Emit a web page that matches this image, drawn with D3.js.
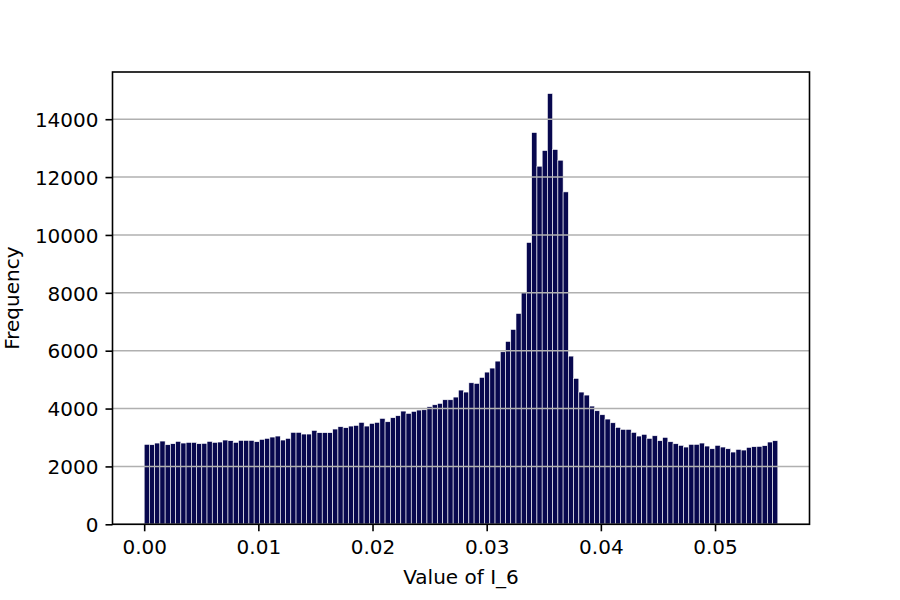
<!DOCTYPE html>
<html>
<head>
<meta charset="utf-8">
<script src="https://cdn.jsdelivr.net/npm/d3@7"></script>
<style>
    body { margin: 0; background: #fff; }
    svg text { font-family: "DejaVu Sans", sans-serif; fill: #000; }
</style>
</head>
<body>
<svg id="chart" width="900" height="600"></svg>
<script>
// histogram of I_6, counts per bin
var binStart = 0.0;
var binEnd = 0.0555;
var counts = [
    2763, 2750, 2808, 2877, 2750, 2785, 2866, 2808, 2831, 2831,
    2785, 2797, 2866, 2831, 2843, 2912, 2889, 2831, 2900, 2900,
    2900, 2854, 2935, 2970, 3015, 3050, 2912, 2970, 3178, 3178,
    3119, 3119, 3247, 3166, 3166, 3166, 3292, 3372, 3338, 3395,
    3418, 3523, 3395, 3488, 3523, 3661, 3544, 3683, 3752, 3913,
    3834, 3903, 3948, 3958, 4062, 4131, 4179, 4304, 4304, 4397,
    4639, 4570, 4891, 4870, 5077, 5260, 5399, 5640, 5962, 6321,
    6735, 7288, 8024, 9740, 13540, 12376, 12918, 14887, 12953, 12583,
    11488, 5813, 5043, 4570, 4466, 4086, 3924, 3786, 3637, 3509,
    3350, 3281, 3281, 3178, 3050, 3109, 2970, 3060, 2888, 3005,
    2853, 2784, 2729, 2670, 2763, 2763, 2808, 2704, 2611, 2729,
    2670, 2611, 2497, 2590, 2566, 2659, 2681, 2693, 2716, 2843,
    2888
];
var xTicks = [0.00, 0.01, 0.02, 0.03, 0.04, 0.05];
var yTicks = [0, 2000, 4000, 6000, 8000, 10000, 12000, 14000];
var xLabel = "Value of I_6";
var yLabel = "Frequency";

// plot box (window.top is taken, so no bare "top" here)
var plotL = 112.5, plotR = 809.5, plotT = 72, plotB = 524.3;
var svg = d3.select("#chart");

var binWidth = (binEnd - binStart) / counts.length;
var bins = counts.map(function (c, i) {
    return {x0: binStart + i * binWidth, x1: binStart + (i + 1) * binWidth, n: c};
});

// matplotlib style 5% margin on x, sticky zero on y
var pad = (binEnd - binStart) * 0.05;
var x = d3.scaleLinear()
        .domain([binStart - pad, binEnd + pad])
        .range([plotL, plotR]);
var y = d3.scaleLinear()
        .domain([0, d3.max(counts) * 1.05])
        .range([plotB, plotT]);

svg.append("g").selectAll("rect")
        .data(bins)
        .enter().append("rect")
        .attr("x", function (d) { return x(d.x0); })
        .attr("y", function (d) { return y(d.n); })
        .attr("width", function (d) { return x(d.x1) - x(d.x0); })
        .attr("height", function (d) { return y(0) - y(d.n); })
        .attr("fill", "#08084e")
        .attr("stroke", "#ffffff")
        .attr("stroke-width", 0.6);

// horizontal grid sits on top of the bars
svg.append("g").selectAll("line")
        .data(yTicks)
        .enter().append("line")
        .attr("x1", plotL)
        .attr("x2", plotR)
        .attr("y1", function (d) { return y(d); })
        .attr("y2", function (d) { return y(d); })
        .attr("stroke", "#b0b0b0")
        .attr("stroke-width", 1.6);

var xAxis = svg.append("g")
        .attr("transform", "translate(0," + plotB + ")")
        .call(d3.axisBottom(x).tickValues(xTicks).tickFormat(d3.format(".2f"))
                .tickSize(7).tickPadding(7).tickSizeOuter(0));
var yAxis = svg.append("g")
        .attr("transform", "translate(" + plotL + ",0)")
        .call(d3.axisLeft(y).tickValues(yTicks).tickFormat(d3.format("d"))
                .tickSize(7).tickPadding(7).tickSizeOuter(0));

[xAxis, yAxis].forEach(function (a) {
    a.select(".domain").remove();
    a.selectAll(".tick line").attr("stroke", "#000").attr("stroke-width", 1.6);
    a.selectAll(".tick text").attr("font-size", 20).attr("fill", "#000");
});
xAxis.selectAll(".tick text").attr("dy", "0.78em");
yAxis.selectAll(".tick text").attr("dy", "0.36em");

// frame
svg.append("rect")
        .attr("x", plotL)
        .attr("y", plotT)
        .attr("width", plotR - plotL)
        .attr("height", plotB - plotT)
        .attr("fill", "none")
        .attr("stroke", "#000")
        .attr("stroke-width", 1.6);

svg.append("text")
        .attr("x", (plotL + plotR) / 2)
        .attr("y", 584)
        .attr("text-anchor", "middle")
        .attr("font-size", 20)
        .text(xLabel);

svg.append("text")
        .attr("transform", "translate(19," + ((plotT + plotB) / 2) + ") rotate(-90)")
        .attr("text-anchor", "middle")
        .attr("font-size", 20)
        .text(yLabel);
</script>
</body>
</html>
